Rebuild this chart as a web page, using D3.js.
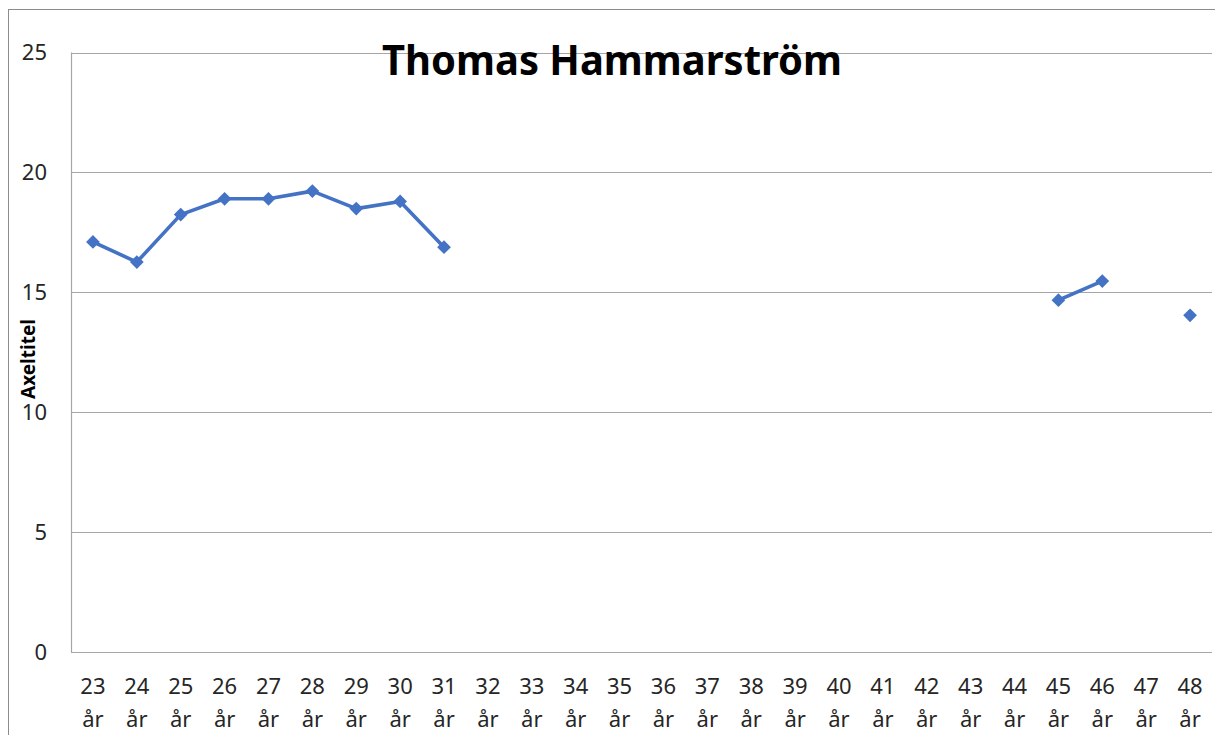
<!DOCTYPE html>
<html>
<head>
<meta charset="utf-8">
<script src="https://d3js.org/d3.v7.min.js"></script>
<style>
  body { margin: 0; background: white; }
  text { font-family: "Noto Sans", "Open Sans", sans-serif; fill: #000; }
</style>
</head>
<body>
<script>
var ages = ["23","24","25","26","27","28","29","30","31","32","33","34","35","36","37","38","39","40","41","42","43","44","45","46","47","48"];
var values = [17.1, 16.26, 18.24, 18.9, 18.9, 19.22, 18.49, 18.79, 16.88, null, null, null, null, null, null, null, null, null, null, null, null, null, 14.67, 15.47, null, 14.04];
var yTicks = [0, 5, 10, 15, 20, 25];
var title = "Thomas Hammarström";
var yTitle = "Axeltitel";

var width = 1215,
    height = 735;

var svg = d3.select("body").append("svg")
	.attr("width", width)
	.attr("height", height);

var data = ages.map(function(a, i){ return {age: a, value: values[i]}; });

var x = d3.scaleBand().domain(ages).range([71, 1212]);
var y = d3.scaleLinear().domain([0, 25]).range([652, 52.5]);

svg.append("rect") //outer chart frame
	.attr("x", 8.5)
	.attr("y", 9.5)
	.attr("width", 1240)
	.attr("height", 760)
	.attr("fill", "white")
	.attr("stroke", "#8c8c8c");

// horizontal gridlines
svg.selectAll("line.grid").data(yTicks).enter()
	.append("line")
	  .attr("class", "grid")
	  .attr("x1", 71)
	  .attr("x2", 1212)
	  .attr("y1", function(d){ return Math.round(y(d)) + 0.5; })
	  .attr("y2", function(d){ return Math.round(y(d)) + 0.5; })
	  .style("stroke", "#a6a6a6")
	  .style("stroke-width", 1.2);

svg.append("line") //left axis line
	.attr("x1", 71.5).attr("x2", 71.5)
	.attr("y1", y(25)).attr("y2", y(0))
	.style("stroke", "#a6a6a6")
	.style("stroke-width", 1.2);

// y tick labels
svg.selectAll("text.ytick").data(yTicks).enter()
	.append("text")
	  .attr("class", "ytick")
	  .attr("x", 47)
	  .attr("y", function(d){ return y(d); })
	  .attr("dy", "0.36em")
	  .attr("text-anchor", "end")
	  .style("font-size", "22px")
	  .style("fill", "#262626")
	  .text(function(d){ return d; });

// x labels, two lines each
var xl = svg.selectAll("text.xtick").data(ages).enter()
	.append("text")
	  .attr("class", "xtick")
	  .attr("text-anchor", "middle")
	  .style("font-size", "22px")
	  .style("fill", "#262626");
xl.append("tspan")
	.attr("x", function(d){ return x(d) + x.bandwidth()/2; })
	.attr("y", 694)
	.text(function(d){ return d; });
xl.append("tspan")
	.attr("x", function(d){ return x(d) + x.bandwidth()/2; })
	.attr("y", 727)
	.text("år");

var line = d3.line()
	.defined(function(d){ return d.value != null; })
	.x(function(d){ return x(d.age) + x.bandwidth()/2; })
	.y(function(d){ return y(d.value); });

svg.append("path")
	.datum(data)
	.attr("d", line)
	.attr("fill", "none")
	.attr("stroke", "#4472c4")
	.attr("stroke-width", 3.6)
	.attr("stroke-linejoin", "round");

var diamond = d3.symbol().type(d3.symbolDiamond2).size(120);

svg.selectAll("path.pt").data(data.filter(function(d){ return d.value != null; })).enter()
	.append("path")
	  .attr("class", "pt")
	  .attr("d", diamond)
	  .attr("transform", function(d){ return "translate(" + (x(d.age) + x.bandwidth()/2) + "," + y(d.value) + ")"; })
	  .attr("fill", "#4472c4");

svg.append("text") //chart title
	.attr("x", 612)
	.attr("y", 75)
	.attr("text-anchor", "middle")
	.attr("textLength", 460)
	.attr("lengthAdjust", "spacingAndGlyphs")
	.style("font-size", "41px")
	.style("font-weight", "bold")
	.text(title);

svg.append("text") //axis title
	.attr("transform", "translate(35,359) rotate(-90)")
	.attr("text-anchor", "middle")
	.style("font-size", "19px")
	.style("font-weight", "bold")
	.text(yTitle);
</script>
</body>
</html>
